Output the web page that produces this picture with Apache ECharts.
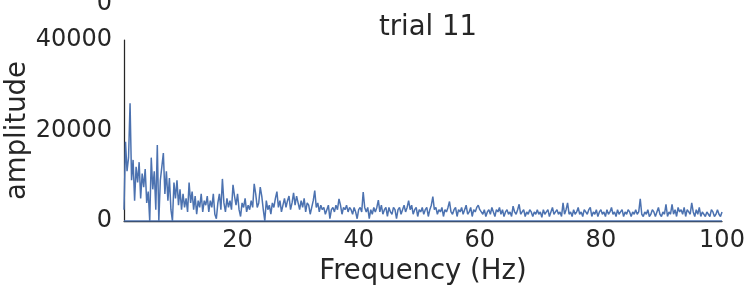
<!DOCTYPE html>
<html>
<head>
<meta charset="utf-8">
<title>trial 11</title>
<script src="https://cdn.jsdelivr.net/npm/echarts@6/dist/echarts.min.js"></script>
<style>
    html, body { margin: 0; padding: 0; background: #fff; }
    #main { width: 747px; height: 287px; }
</style>
</head>
<body>
<div id="main"></div>
<script>
//频率轴：起点和步长 (Hz)
let freqStart = 1.25
let freqStep = 0.25
//振幅，每行一个 Hz 区间 (n.25 ~ n+1)
let amplitude = [
    2500, 17500, 11000, 14000,
    26000, 9000, 13500, 4500,
    12000, 8500, 13000, 5000,
    10500, 7500, 11500, 4000,
    6500, 0, 14000, 7000,
    11000, 2500, 16800, 0,
    9000, 12000, 15000, 6000,
    11000, 4500, 9500, 2500,
    0, 8500, 5000, 9000,
    3500, 7000, 2500, 6000,
    3000, 5000, 2000, 8500,
    4000, 6500, 2500, 5500,
    1500, 4500, 3000, 6000,
    2000, 4500, 3500, 5500,
    2000, 4500, 3000, 6000,
    1500, 500, 4000, 6000,
    2500, 9300, 4000, 2000,
    5000, 3000, 4500, 2500,
    8000, 5500, 3500, 6000,
    2500, 1000, 4000, 3000,
    5000, 2000, 3500, 2500,
    4500, 3000, 8200, 6000,
    3000, 4000, 7500, 5500,
    2500, 0, 4500, 2500,
    3500, 1500, 4000, 3000,
    5000, 6500, 3000, 4500,
    2000, 3500, 5000, 3000,
    4500, 5500, 2500, 4000,
    6200, 3500, 5500, 4000,
    2500, 4500, 3000, 5000,
    2000, 4000, 3500, 1500,
    3000, 4500, 6700, 3000,
    4000, 2000, 3500, 2500,
    3000, 1500, 2500, 3500,
    500, 2500, 3000, 2000,
    3500, 2500, 4900, 3500,
    1500, 3000, 2500, 3500,
    2000, 3000, 2500, 1500,
    3000, 2000, 500, 2500,
    3000, 2000, 6400, 3000,
    2000, 3000, 500, 2500,
    1500, 3000, 2000, 3000,
    4600, 2000, 3500, 1500,
    2500, 3000, 1000, 3000,
    2000, 1500, 3000, 2500,
    500, 2500, 3000, 1500,
    2500, 3500, 2000, 3000,
    4500, 2500, 3500, 1500,
    2500, 3000, 1000, 2500,
    2000, 3000, 1500, 2500,
    3000, 1000, 2500, 3500,
    5400, 2500, 3000, 1500,
    2500, 2000, 3000, 1000,
    2500, 2000, 3000, 4300,
    2000, 1500, 2500, 3000,
    1000, 2500, 2000, 3000,
    1500, 2500, 3500, 1500,
    2000, 3000, 1000, 2500,
    2000, 3000, 3500, 2500,
    2000, 1500, 2500, 1000,
    2000, 2500, 1500, 3000,
    2000, 1000, 2500, 2000,
    3000, 1500, 2500, 1000,
    2000, 2500, 1500, 2000,
    1000, 3300, 2000, 1500,
    2500, 3700, 1500, 2000,
    2500, 1000, 2000, 1500,
    2500, 2000, 1000, 2000,
    1500, 2500, 1500, 2000,
    800, 2500, 1500, 2000,
    2500, 1000, 2000, 3000,
    1500, 2000, 2500, 1500,
    2000, 1000, 4000, 1500,
    2500, 4000, 1500, 2000,
    1000, 2500, 1500, 2000,
    3000, 1500, 2000, 1000,
    2500, 2000, 1500, 2500,
    3000, 1000, 2000, 1500,
    2500, 1000, 2000, 2500,
    1500, 2000, 1000, 2500,
    1500, 2000, 3000, 1500,
    2000, 1000, 2500, 1500,
    2000, 2500, 1000, 2000,
    1500, 2500, 2000, 1000,
    2000, 1500, 2500, 1500,
    2000, 4900, 1500, 1000,
    2000, 1500, 2500, 1000,
    1500, 2500, 2000, 1000,
    2000, 3000, 1500, 1000,
    2000, 1500, 3700, 1000,
    2000, 1500, 3700, 1500,
    2500, 1000, 3000, 2000,
    2500, 1500, 3000, 1000,
    2500, 2000, 1500, 4000,
    2000, 1000, 2500, 1500,
    3000, 1000, 2000, 1500,
    1000, 2000, 1500, 1000,
    2500, 2000, 1000, 1500,
    2500, 1500, 1000, 2000
]
//坐标轴刻度
let xTicks = [20, 40, 60, 80, 100]
let yTicks = [0, 20000, 40000]

let textColor = '#262626'
let lineColor = '#4c72b0'
let fontName = 'DejaVu Sans'

//拼成 [频率, 振幅]
let lineData = []
amplitude.forEach((v, i) => {
    lineData.push([freqStart + i * freqStep, v])
})

let myChart = echarts.init(document.getElementById('main'), null, {renderer: 'canvas'})

let option = {
    animation: false,
    backgroundColor: '#fff',
    textStyle: {fontFamily: fontName, color: textColor},
    title: {
        text: 'trial 11',
        left: 423,
        top: 9,
        textAlign: 'center',
        textStyle: {fontFamily: fontName, fontSize: 27.5, fontWeight: 'normal', color: textColor}
    },
    grid: {left: 124, right: 25, top: 40, bottom: 66, containLabel: false, outerBoundsMode: 'none'},
    xAxis: {
        type: 'value',
        min: freqStart,
        max: 100,
        name: 'Frequency (Hz)',
        nameLocation: 'middle',
        nameGap: 37,
        nameMoveOverlap: false,
        nameTextStyle: {fontFamily: fontName, fontSize: 27.5, color: textColor},
        axisLine: {show: true, onZero: false, lineStyle: {color: textColor, width: 1.25}},
        axisTick: {show: false},
        splitLine: {show: false},
        axisLabel: {
            customValues: xTicks,
            margin: 8,
            fontFamily: fontName,
            fontSize: 24,
            color: textColor,
            formatter: v => String(v)
        }
    },
    yAxis: {
        type: 'value',
        min: 0,
        max: 40000,
        interval: 20000,
        name: 'amplitude',
        nameLocation: 'middle',
        nameGap: 92,
        nameMoveOverlap: false,
        nameTextStyle: {fontFamily: fontName, fontSize: 27.5, color: textColor},
        axisLine: {show: true, lineStyle: {color: textColor, width: 1.25}},
        axisTick: {show: false},
        splitLine: {show: false},
        axisLabel: {
            customValues: yTicks,
            margin: 12,
            fontFamily: fontName,
            fontSize: 24,
            color: textColor,
            formatter: v => String(v)
        }
    },
    graphic: [
        {
            //上一张子图残留的 "0"
            type: 'text',
            x: 112,
            y: 4,
            style: {text: '0', fontFamily: fontName, fontSize: 24, fill: textColor, align: 'right', verticalAlign: 'middle'}
        }
    ],
    series: [
        {
            type: 'line',
            data: lineData,
            showSymbol: false,
            lineStyle: {color: lineColor, width: 1.5},
            z: 3
        },
        {
            //零线
            type: 'line',
            data: [[freqStart, 0], [100, 0]],
            showSymbol: false,
            lineStyle: {color: lineColor, width: 1.5},
            z: 2
        }
    ]
}
myChart.setOption(option)
</script>
</body>
</html>
